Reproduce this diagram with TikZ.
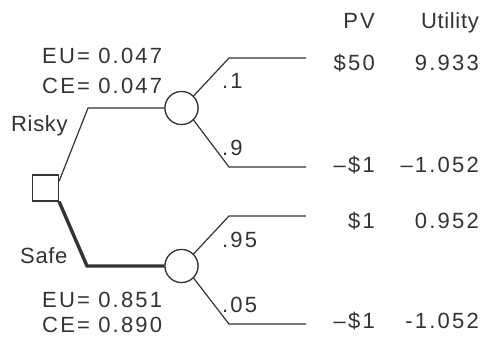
\documentclass[tikz,border=0pt]{standalone}
\usepackage{fontspec}
\setmainfont[LetterSpace=10]{Liberation Sans}
\newfontfamily\plainfont[LetterSpace=3]{Liberation Sans}
\usetikzlibrary{calc}
\definecolor{ink}{HTML}{333333}
\begin{document}
\begin{tikzpicture}[x=1pt,y=-1pt,
  font=\fontsize{22}{24}\selectfont,
  txt/.style={inner sep=0pt,text=ink},
  br/.style={draw=ink,line width=1.2pt},
  thickbr/.style={draw=ink,line width=3.4pt,line join=miter},
  dec/.style={draw=ink,fill=white,line width=1.2pt,minimum size=26pt,inner sep=0pt},
  chance/.style={circle,draw=ink,fill=white,line width=1.2pt,minimum size=33pt,inner sep=0pt}]
\useasboundingbox (0,0) rectangle (486,343);
% coordinates
\coordinate (r1) at (88,108);
\coordinate (s1) at (87,266);
\coordinate (a1) at (229,58);  \coordinate (a2) at (306,58);
\coordinate (b1) at (229,167); \coordinate (b2) at (306,167);
\coordinate (c1) at (229,216); \coordinate (c2) at (306,216);
\coordinate (d1) at (229,324); \coordinate (d2) at (306,324);
% nodes
\node[dec] (D) at (45.5,188) {};
\node[chance] (C1) at (181.5,108) {};
\node[chance] (C2) at (181.5,266) {};
\coordinate (Dr) at ($(D.north east)!0.25!(D.south east)$);
% branches
\draw[br] (Dr) -- (r1) -- (C1.west);
\draw[thickbr] (D.south east) -- (s1) -- (C2.west);
\draw[br] (C1.north east) -- (a1) -- (a2);
\draw[br] (C1.south east) -- (b1) -- (b2);
\draw[br] (C2.north east) -- (c1) -- (c2);
\draw[br] (C2.south east) -- (d1) -- (d2);
% redraw nodes on top
\node[dec] at (D) {};
\node[chance] at (C1) {};
\node[chance] at (C2) {};
% labels
\node[txt,anchor=base east] (hpv) at (375,28) {PV};
\node[txt,anchor=base east] (hut) at (479,28) {\plainfont Utility};
\node[txt,anchor=base east] (pv1) at (375,70) {\$50};
\node[txt,anchor=base east] (ut1) at (479,70) {9.933};
\node[txt,anchor=base east] (pv2) at (375,172) {\textendash\$1};
\node[txt,anchor=base east] (ut2) at (479,172) {\textendash1.052};
\node[txt,anchor=base east] (pv3) at (375,228) {\$1};
\node[txt,anchor=base east] (ut3) at (479,228) {0.952};
\node[txt,anchor=base east] (pv4) at (375,328) {\textendash\$1};
\node[txt,anchor=base east] (ut4) at (479,328) {-1.052};
\node[txt,anchor=base west] (eu1) at (42,63) {EU= 0.047};
\node[txt,anchor=base west] (ce1) at (42,93) {CE= 0.047};
\node[txt,anchor=base west] (eu2) at (42,307) {EU= 0.851};
\node[txt,anchor=base west] (ce2) at (42,332) {CE= 0.890};
\node[txt,anchor=base west] (risky) at (11,131) {\plainfont Risky};
\node[txt,anchor=base west] (safe) at (20,263) {\plainfont Safe};
\node[txt,anchor=base west] (p1) at (222,88) {.1};
\node[txt,anchor=base west] (p2) at (222,155) {.9};
\node[txt,anchor=base west] (p3) at (222,247) {.95};
\node[txt,anchor=base west] (p4) at (222,312) {.05};
\end{tikzpicture}
\end{document}
